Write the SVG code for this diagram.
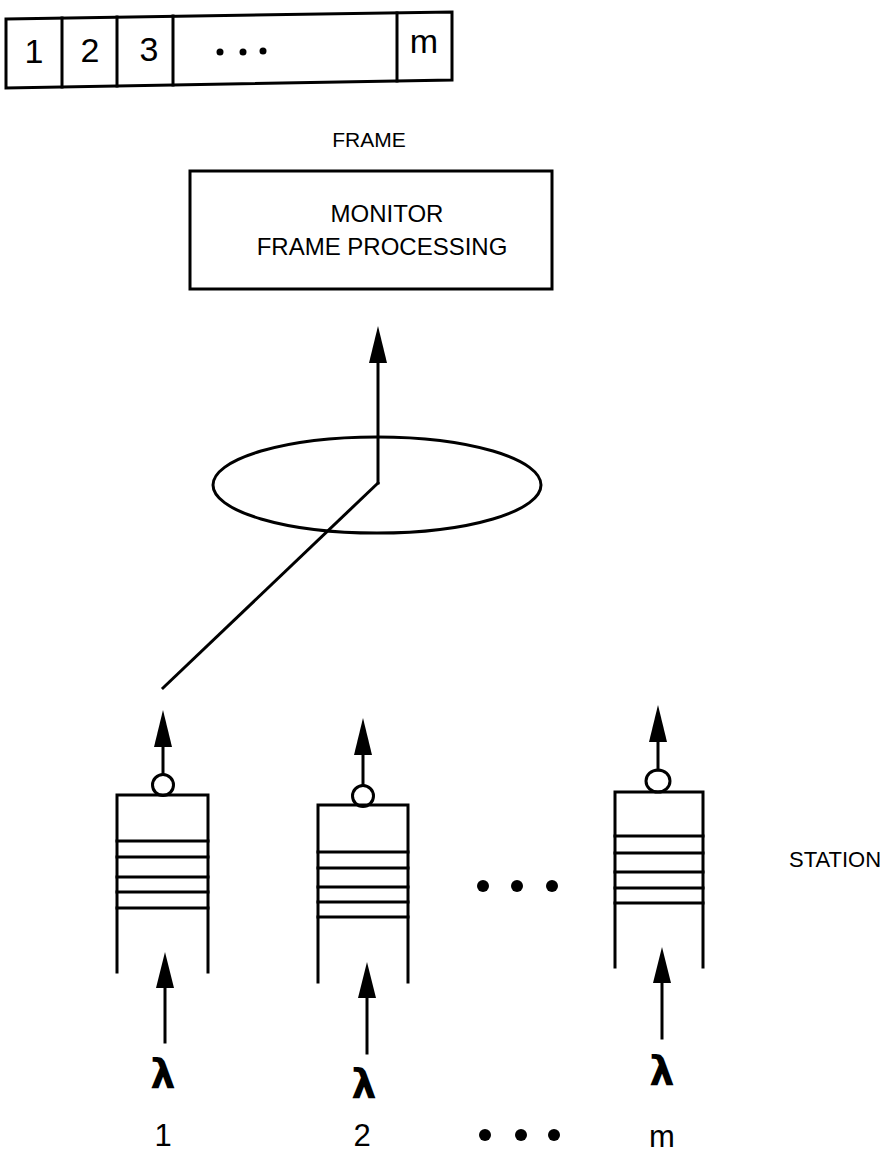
<svg xmlns="http://www.w3.org/2000/svg" width="891" height="1154" viewBox="0 0 891 1154">
<style>
.ln{stroke:#000;stroke-width:3;fill:none;stroke-linecap:square}
.t{font-family:"Liberation Sans",Arial,sans-serif;fill:#000}
.big{font-size:34px;text-anchor:middle}
.bot{font-size:31px;text-anchor:middle}
.lab{font-size:24px;text-anchor:middle}
.lam{font-family:"DejaVu Sans","Liberation Sans",sans-serif;font-size:40px;font-weight:bold;text-anchor:middle;fill:#000}
.head{fill:#000;stroke:none}
</style>
<rect width="891" height="1154" fill="#fff"/>
<g id="frame">
<path class="ln" d="M6,19 L452,12 L452,80 L6,88 Z"/>
<path class="ln" d="M62,18 V87 M117,17 V86 M173,16 V85 M397,13 V81"/>
<text class="t big" x="34" y="63">1</text>
<text class="t big" x="90" y="62">2</text>
<text class="t big" x="149" y="61">3</text>
<circle cx="220" cy="52" r="3.5"/>
<circle cx="243" cy="52" r="3.5"/>
<circle cx="263" cy="51" r="3.5"/>
<text class="t big" x="424" y="53">m</text>
</g>
<g id="frame-label">
<text class="t" x="369" y="147" font-size="21" text-anchor="middle">FRAME</text>
</g>
<g id="monitor">
<rect class="ln" x="190" y="171" width="362" height="118"/>
<text class="t lab" x="387" y="222">MONITOR</text>
<text class="t lab" x="382" y="255">FRAME PROCESSING</text>
</g>
<g id="ring">
<ellipse class="ln" cx="377" cy="485" rx="164" ry="48"/>
</g>
<g id="station1">
<path class="ln" d="M117,972 V795 H208 V972"/>
<path class="ln" d="M117,841 H208 M117,857 H208 M117,877 H208 M117,892 H208 M117,908 H208"/>
<circle class="ln" cx="163" cy="785" r="10.5" stroke-width="2.5"/>
</g>
<g id="station2">
<path class="ln" d="M318,982 V805 H408 V982"/>
<path class="ln" d="M318,852 H408 M318,868 H408 M318,887 H408 M318,902 H408 M318,917 H408"/>
<circle class="ln" cx="363" cy="796" r="10.5" stroke-width="2.5"/>
</g>
<g id="stationm">
<path class="ln" d="M615,967 V792 H703 V967"/>
<path class="ln" d="M615,836 H703 M615,853 H703 M615,872 H703 M615,888 H703 M615,903 H703"/>
<ellipse class="ln" cx="658" cy="781" rx="12" ry="11" stroke-width="2.5"/>
</g>
<g id="station-label">
<text class="t" x="835" y="867" font-size="22" text-anchor="middle">STATION</text>
</g>
<g id="middle-dots">
<circle cx="483" cy="886" r="6"/>
<circle cx="517" cy="886" r="6"/>
<circle cx="552" cy="886" r="6"/>
</g>
<g id="sources">
<text class="lam" x="163" y="1088">λ</text>
<text class="lam" x="364" y="1098">λ</text>
<text class="lam" x="662" y="1085">λ</text>
<text class="t bot" x="163" y="1146">1</text>
<text class="t bot" x="362" y="1146">2</text>
<text class="t bot" x="662" y="1147">m</text>
<circle cx="485" cy="1135" r="6"/>
<circle cx="521" cy="1135" r="6"/>
<circle cx="554" cy="1135" r="6"/>
</g>
<g id="connectors">
<path class="ln" d="M378,483 V360"/>
<polygon class="head" points="378,326 369,363 387,363"/>
<path class="ln" d="M378,483 L163,688" stroke-width="3.5"/>
<path class="ln" d="M163,774 V745"/>
<polygon class="head" points="163,710 154,747 172,747"/>
<path class="ln" d="M363,785 V752"/>
<polygon class="head" points="363,718 354,755 372,755"/>
<path class="ln" d="M658,770 V740"/>
<polygon class="head" points="658,705 649,742 667,742"/>
<path class="ln" d="M165,1042 V985"/>
<polygon class="head" points="165,952 156,988 174,988"/>
<path class="ln" d="M367,1053 V995"/>
<polygon class="head" points="367,962 358,998 376,998"/>
<path class="ln" d="M662,1038 V980"/>
<polygon class="head" points="662,947 653,983 671,983"/>
</g>
</svg>
